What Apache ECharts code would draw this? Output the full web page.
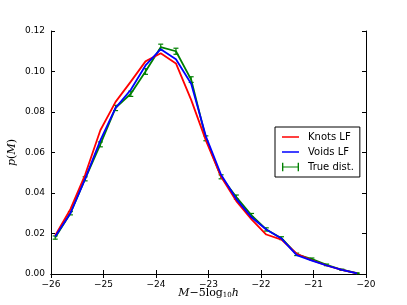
<!DOCTYPE html>
<html><head><meta charset="utf-8">
<script src="https://cdn.jsdelivr.net/npm/echarts@6/dist/echarts.min.js"></script>
<style>html,body{margin:0;padding:0;background:#fff}#c{width:407px;height:305px}</style>
</head><body><div id="c"></div>
<script>
const xVals = [-25.92,-25.63,-25.35,-25.06,-24.77,-24.48,-24.20,-23.91,-23.62,-23.33,-23.05,-22.76,-22.47,-22.18,-21.90,-21.61,-21.32,-21.03,-20.75,-20.46,-20.17];
const knots = [0.019,0.032,0.049,0.071,0.085,0.095,0.105,0.109,0.104,0.086,0.066,0.048,0.036,0.027,0.0195,0.017,0.010,0.0068,0.0042,0.0020,0.0003];
const voids = [0.0185,0.030,0.047,0.066,0.082,0.091,0.103,0.111,0.106,0.094,0.068,0.049,0.037,0.028,0.022,0.0175,0.0093,0.0066,0.0042,0.0020,0.0003];
const trueDist = [0.018,0.030,0.047,0.064,0.082,0.089,0.100,0.112,0.110,0.096,0.067,0.048,0.038,0.029,0.022,0.0177,0.0097,0.0074,0.0045,0.0021,0.0004];
const trueErr = [0.0008,0.0008,0.001,0.0012,0.0013,0.0013,0.0014,0.0015,0.0015,0.0014,0.0012,0.001,0.001,0.0009,0.0008,0.0007,0.0006,0.0005,0.0004,0.0003,0.0002];
const xTicks = [-26,-25,-24,-23,-22,-21,-20];
const yTicks = [0,0.02,0.04,0.06,0.08,0.10,0.12];

const pairs = a => xVals.map((x,i)=>[x,a[i]]);
const errData = xVals.map((x,i)=>[x,trueDist[i]-trueErr[i],trueDist[i]+trueErr[i]]);
const tickFont = {fontFamily:'DejaVu Sans',fontSize:9,color:'#000'};
const chart = echarts.init(document.getElementById('c'));
const axisCommon = {
  axisLine:{show:true,lineStyle:{color:'#000',width:1}},
  axisTick:{show:true,inside:true,length:4,lineStyle:{color:'#000'}},
  splitLine:{show:false}
};
const lineIcon = 'path://M0,0h0.01v0.01h-0.01z M0,4.1h20v1.8h-20z M19.99,9.99h0.01v0.01h-0.01z';
chart.setOption({
  animation:false,
  grid:{left:51,right:41,top:31,bottom:31,containLabel:false,outerBoundsMode:'none'},
  legend:{
    orient:'vertical',left:275,top:127,
    itemWidth:17,itemHeight:10,itemGap:5,
    padding:[5,6,5,7],
    borderColor:'#000',borderWidth:1,borderRadius:0,backgroundColor:'#fff',
    textStyle:{fontFamily:'DejaVu Sans',fontSize:10,color:'#000',padding:[0,0,0,4]},
    data:[
      {name:'Knots LF',icon:lineIcon},
      {name:'Voids LF',icon:lineIcon},
      {name:'True dist.',icon:'path://M0,0h1.6v10h-1.6z M0,4.3h20v1.4h-20z M18.4,0h1.6v10h-1.6z'}
    ]
  },
  xAxis:[
    Object.assign({type:'value',min:-26,max:-20,interval:1,position:'bottom',
      axisLabel:Object.assign({margin:6,formatter:v=>String(v).replace('-','\u2212')},tickFont),
      name:'{i|M}{n|\u22125log}{s|10}{i|h}',nameLocation:'middle',nameGap:13,nameMoveOverlap:false,
      nameTextStyle:{rich:{
        i:{fontFamily:'DejaVu Serif',fontStyle:'italic',fontSize:11,color:'#000'},
        n:{fontFamily:'DejaVu Serif',fontSize:11,color:'#000'},
        s:{fontFamily:'DejaVu Serif',fontSize:7,color:'#000',padding:[5,0,0,0]}
      }}},axisCommon),
    Object.assign({type:'value',min:-26,max:-20,interval:1,position:'top',axisLabel:{show:false}},axisCommon)
  ],
  yAxis:[
    Object.assign({type:'value',min:0,max:0.12,interval:0.02,position:'left',
      axisLabel:Object.assign({margin:6,formatter:v=>v.toFixed(2)},tickFont),
      name:'{i|p}{n|(}{i|M}{n|)}',nameLocation:'middle',nameGap:33,nameRotate:90,nameMoveOverlap:false,
      nameTextStyle:{rich:{
        i:{fontFamily:'DejaVu Serif',fontStyle:'italic',fontSize:11,color:'#000'},
        n:{fontFamily:'DejaVu Serif',fontSize:11,color:'#000'}
      }}},axisCommon),
    Object.assign({type:'value',min:0,max:0.12,interval:0.02,position:'right',axisLabel:{show:false}},axisCommon)
  ],
  series:[
    {name:'True dist.',type:'line',data:pairs(trueDist),symbol:'none',z:1,
      color:'#008000',lineStyle:{color:'#008000',width:1.8}},
    {name:'True dist.',type:'custom',data:errData,z:1,
      color:'#008000',
      renderItem:function(params,api){
        const x=api.value(0);
        const lo=api.coord([x,api.value(1)]);
        const hi=api.coord([x,api.value(2)]);
        const w=2.5;
        const st={stroke:'#008000',lineWidth:1.2};
        return {type:'group',children:[
          {type:'line',shape:{x1:lo[0],y1:lo[1],x2:hi[0],y2:hi[1]},style:st},
          {type:'line',shape:{x1:lo[0]-w,y1:lo[1],x2:lo[0]+w,y2:lo[1]},style:st},
          {type:'line',shape:{x1:hi[0]-w,y1:hi[1],x2:hi[0]+w,y2:hi[1]},style:st}
        ]};
      }},
    {name:'Knots LF',type:'line',data:pairs(knots),symbol:'none',z:2,
      color:'#ff0000',lineStyle:{color:'#ff0000',width:1.8}},
    {name:'Voids LF',type:'line',data:pairs(voids),symbol:'none',z:3,
      color:'#0000ff',lineStyle:{color:'#0000ff',width:1.8}}
  ]
});
</script></body></html>
